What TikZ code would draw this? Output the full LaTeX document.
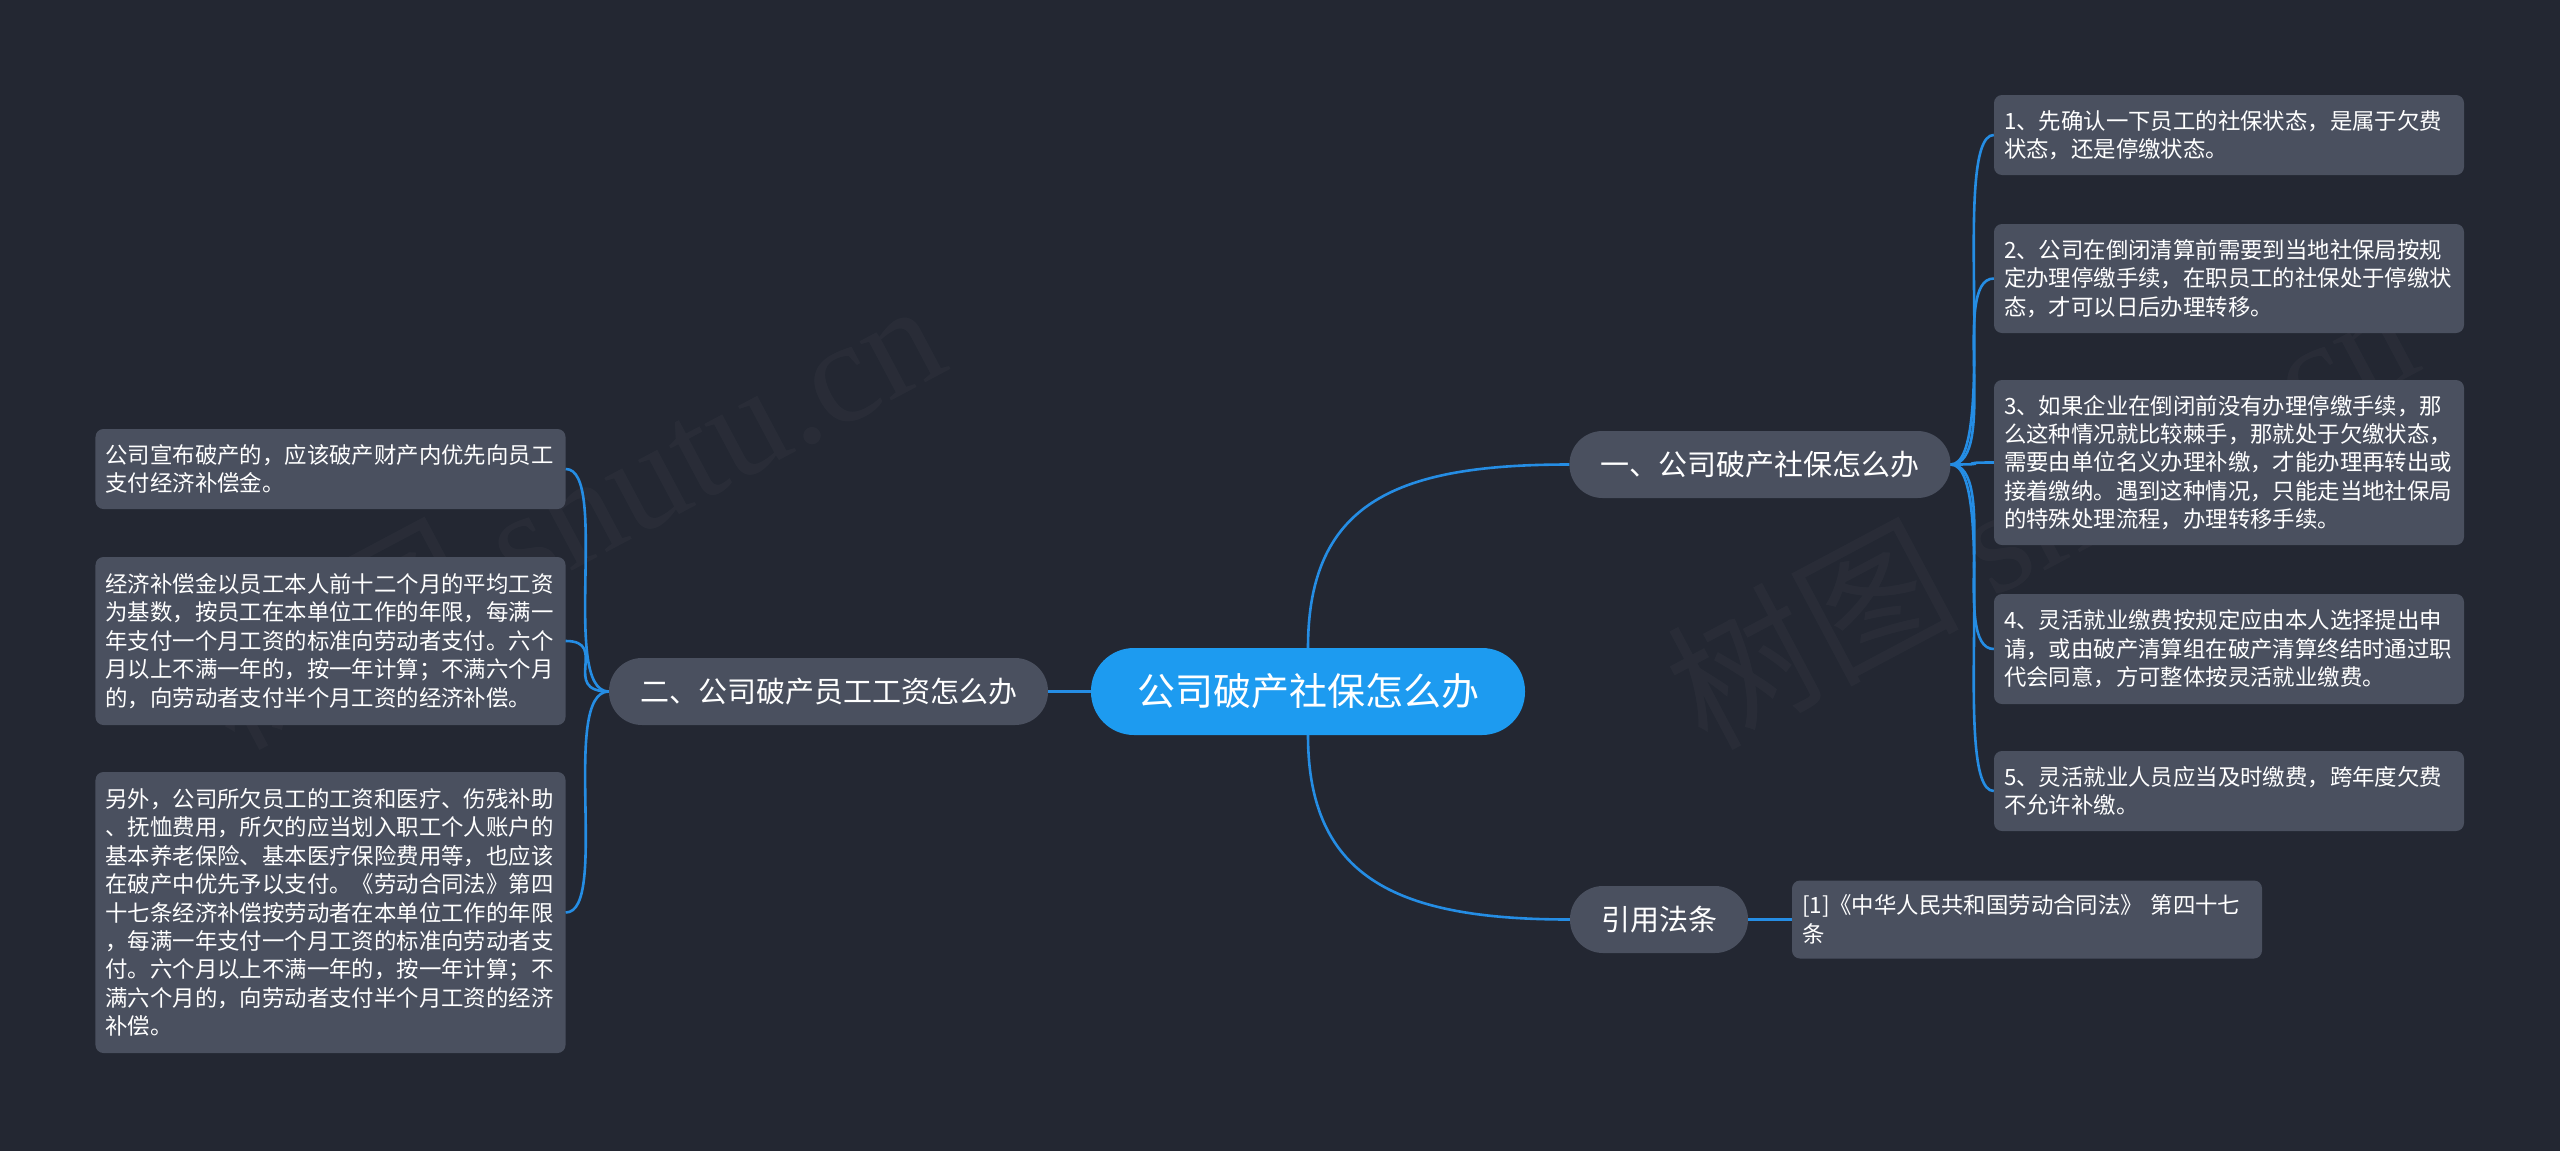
\documentclass[tikz,border=0pt]{standalone}
\usepackage{fontspec}
\setmainfont{Noto Sans CJK SC}
\newfontfamily\wmserif{Liberation Serif}
\usepackage{tikz}
\definecolor{bgnavy}{RGB}{35,39,50}
\definecolor{boxgray}{RGB}{74,80,95}
\definecolor{rootblue}{RGB}{29,155,240}
\definecolor{lnkblue}{RGB}{37,141,228}
\tikzset{
  rootnd/.style={fill=rootblue, text=white, rounded corners=43bp, minimum height=87bp,
      inner xsep=46bp, inner ysep=0pt, font=\fontsize{38bp}{44bp}\selectfont},
  topic/.style={fill=boxgray, text=white, rounded corners=33bp, minimum height=67bp,
      inner xsep=31bp, inner ysep=0pt, font=\fontsize{29bp}{34bp}\selectfont},
  leaf/.style={fill=boxgray, text=white, rounded corners=8bp, text width=450bp,
      inner xsep=10bp, inner ysep=4bp, align=left, font=\fontsize{22.4bp}{28.4bp}\selectfont},
  lnk/.style={lnkblue, line width=2.6bp},
  wmark/.style={text=white, opacity=0.028, rotate=28, font=\fontsize{146bp}{146bp}\selectfont},
}

\begin{document}
\begin{tikzpicture}[x=1bp, y=-1bp]
\fill[bgnavy] (0,0) rectangle (2560,1151);
\useasboundingbox (0,0) rectangle (2560,1151);
%---- watermark
\node[wmark] (wmA) at (567,511) {树图 {\wmserif shutu.cn}};
\node[wmark] (wmB) at (2040,511) {树图 {\wmserif shutu.cn}};
%---- central topic
\node[rootnd] (root) at (1308,691.5) {公司破产社保怎么办};
%---- right branch : social insurance
\node[topic] (socT) at (1760,464.5) {一、公司破产社保怎么办};
\node[leaf, minimum height=80bp] (socA) at (2229,135) {1、先确认一下员工的社保状态，是属于欠费\\状态，还是停缴状态。};
\node[leaf, minimum height=109bp] (socB) at (2229,278.5) {2、公司在倒闭清算前需要到当地社保局按规\\定办理停缴手续，在职员工的社保处于停缴状\\态，才可以日后办理转移。};
\node[leaf, minimum height=165bp] (socC) at (2229,462.5) {3、如果企业在倒闭前没有办理停缴手续，那\\么这种情况就比较棘手，那就处于欠缴状态，\\需要由单位名义办理补缴，才能办理再转出或\\接着缴纳。遇到这种情况，只能走当地社保局\\的特殊处理流程，办理转移手续。};
\node[leaf, minimum height=110bp] (socD) at (2229,649) {4、灵活就业缴费按规定应由本人选择提出申\\请，或由破产清算组在破产清算终结时通过职\\代会同意，方可整体按灵活就业缴费。};
\node[leaf, minimum height=80bp] (socE) at (2229,791) {5、灵活就业人员应当及时缴费，跨年度欠费\\不允许补缴。};
%---- left branch : wages
\node[topic] (wageT) at (828.5,691.5) {二、公司破产员工工资怎么办};
\node[leaf, minimum height=80bp] (wageA) at (330.5,469) {公司宣布破产的，应该破产财产内优先向员工\\支付经济补偿金。};
\node[leaf, minimum height=168bp] (wageB) at (330.5,641) {经济补偿金以员工本人前十二个月的平均工资\\为基数，按员工在本单位工作的年限，每满一\\年支付一个月工资的标准向劳动者支付。六个\\月以上不满一年的，按一年计算；不满六个月\\的，向劳动者支付半个月工资的经济补偿。};
\node[leaf, minimum height=281bp] (wageC) at (330.5,912.5) {另外，公司所欠员工的工资和医疗、伤残补助\\、抚恤费用，所欠的应当划入职工个人账户的\\基本养老保险、基本医疗保险费用等，也应该\\在破产中优先予以支付。《劳动合同法》第四\\十七条经济补偿按劳动者在本单位工作的年限\\，每满一年支付一个月工资的标准向劳动者支\\付。六个月以上不满一年的，按一年计算；不\\满六个月的，向劳动者支付半个月工资的经济\\补偿。};
%---- bottom branch : law
\node[topic] (lawT) at (1659,919.5) {引用法条};
\node[leaf, minimum height=78bp] (lawA) at (2027,919.5) {[1]《中华人民共和国劳动合同法》~第四十七\\条};
%---- connectors
\draw[lnk] (root.west) -- (wageT.east);
\draw[lnk] (root.north) .. controls (1308,500) and (1400,464.5) .. (socT.west);
\draw[lnk] (root.south) .. controls (1308,880) and (1400,919.5) .. (lawT.west);
\draw[lnk] (lawT.east) -- (lawA.west);
\foreach \lf in {socA,socB,socC,socD,socE}
  \draw[lnk] (socT.east) .. controls +(49,0) and +(-44,0) .. (\lf.west);
\foreach \lf in {wageA,wageB,wageC}
  \draw[lnk] (wageT.west) .. controls +(-49,0) and +(44,0) .. (\lf.east);
\end{tikzpicture}
\end{document}
